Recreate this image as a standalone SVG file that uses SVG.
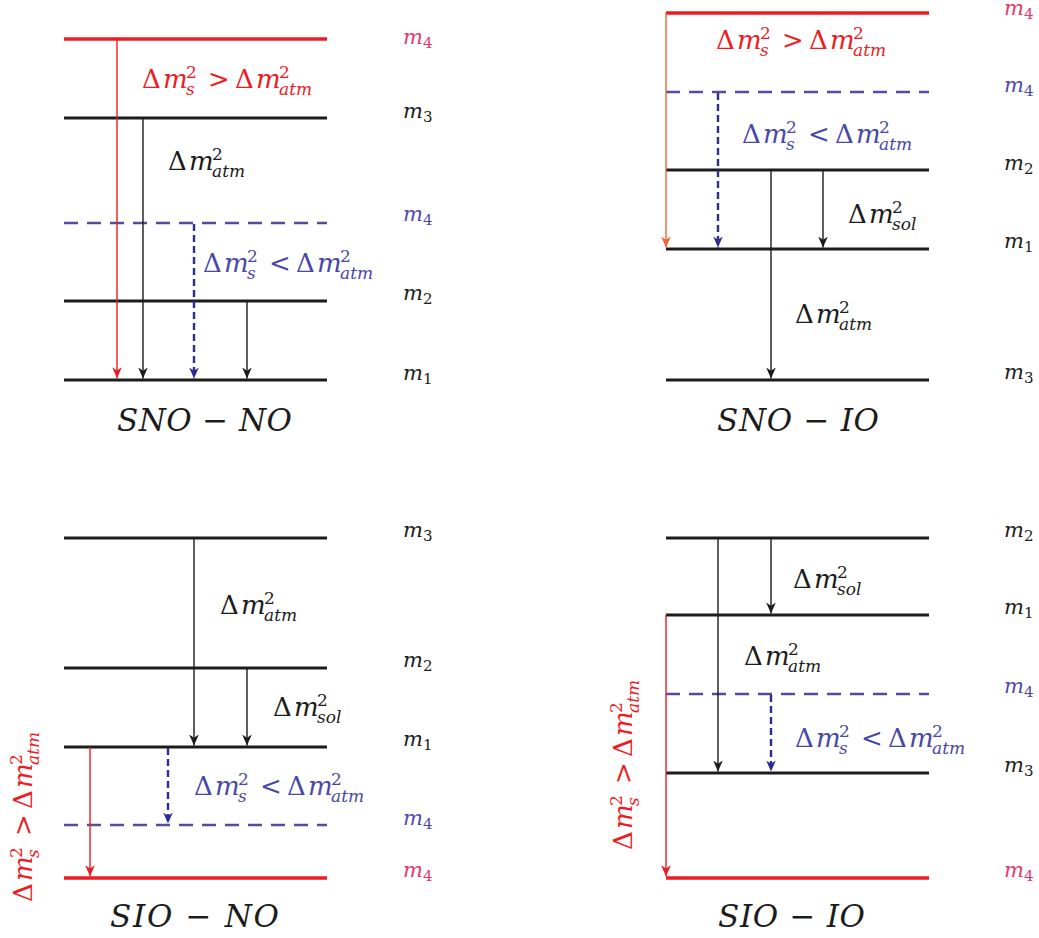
<svg xmlns="http://www.w3.org/2000/svg" width="1039" height="938" viewBox="0 0 1039 938">
<style>
.lv{stroke:#1c1c1c;stroke-width:3;fill:none}
.lvr{stroke:#ed1c24;stroke-width:3.5;fill:none}
.lvd{stroke:#554ca0;stroke-width:2.6;stroke-dasharray:14 9;fill:none}
.ak{stroke:#1c1c1c;stroke-width:1.4;fill:none;marker-end:url(#hk)}
.ar{stroke:#ed1c24;stroke-width:1.4;fill:none;marker-end:url(#hr)}
.ao{stroke:#f26532;stroke-width:1.4;fill:none;marker-end:url(#ho)}
.ab{stroke:#2e2d8f;stroke-width:2.4;stroke-dasharray:7 4;fill:none;marker-end:url(#hb)}
text{font-family:"DejaVu Serif","Liberation Serif",serif}
.mt{font-size:26px}
.it{font-style:italic}
.sc{font-size:17px}
.lb{font-size:21px;font-style:italic}
.lbs{font-size:15px;font-style:normal}
.ttl{font-size:31px;font-style:italic;fill:#1c1c1c}
.ck{fill:#1c1c1c}
.cr{fill:#ed1c24}
.cb{fill:#4a48a6}
.cp{fill:#e5386e}
.cbl{fill:#4f4aa8}
</style>
<defs>
<marker id="hk" markerUnits="userSpaceOnUse" markerWidth="11" markerHeight="11" viewBox="0 0 10 10" refX="10" refY="5" orient="auto"><path d="M0,0.6 L10,5 L0,9.4 L3,5 Z" fill="#1c1c1c"/></marker>
<marker id="hr" markerUnits="userSpaceOnUse" markerWidth="11" markerHeight="11" viewBox="0 0 10 10" refX="10" refY="5" orient="auto"><path d="M0,0.6 L10,5 L0,9.4 L3,5 Z" fill="#ed1c24"/></marker>
<marker id="ho" markerUnits="userSpaceOnUse" markerWidth="11" markerHeight="11" viewBox="0 0 10 10" refX="10" refY="5" orient="auto"><path d="M0,0.6 L10,5 L0,9.4 L3,5 Z" fill="#f26532"/></marker>
<marker id="hb" markerUnits="userSpaceOnUse" markerWidth="11" markerHeight="11" viewBox="0 0 10 10" refX="10" refY="5" orient="auto"><path d="M0,0.6 L10,5 L0,9.4 L3,5 Z" fill="#2e2d8f"/></marker>
</defs>

<!-- SNO-NO levels -->
<g id="snono-m4s"><line class="lvr" x1="64" y1="39" x2="327" y2="39"/><text class="lb cp" x="403" y="44">m<tspan class="lbs" x="423" y="48">4</tspan></text></g>
<g id="snono-m3"><line class="lv" x1="64" y1="118" x2="327" y2="118"/><text class="lb ck" x="403" y="118">m<tspan class="lbs" x="423" y="122">3</tspan></text></g>
<g id="snono-m4"><line class="lvd" x1="64" y1="223" x2="327" y2="223"/><text class="lb cbl" x="403" y="221">m<tspan class="lbs" x="423" y="225">4</tspan></text></g>
<g id="snono-m2"><line class="lv" x1="64" y1="301" x2="327" y2="301"/><text class="lb ck" x="403" y="300">m<tspan class="lbs" x="423" y="304">2</tspan></text></g>
<g id="snono-m1"><line class="lv" x1="64" y1="380" x2="327" y2="380"/><text class="lb ck" x="403" y="380">m<tspan class="lbs" x="423" y="384">1</tspan></text></g>
<g id="title-snono"><text class="ttl" x="117" y="431" textLength="175" lengthAdjust="spacing">SNO <tspan font-style="normal">−</tspan> NO</text></g>

<!-- SNO-IO levels -->
<g id="snoio-m4s"><line class="lvr" x1="666" y1="13" x2="929" y2="13"/><text class="lb cp" x="1004" y="15">m<tspan class="lbs" x="1024" y="19">4</tspan></text></g>
<g id="snoio-m4"><line class="lvd" x1="666" y1="92" x2="929" y2="92"/><text class="lb cbl" x="1004" y="92">m<tspan class="lbs" x="1024" y="96">4</tspan></text></g>
<g id="snoio-m2"><line class="lv" x1="666" y1="170" x2="929" y2="170"/><text class="lb ck" x="1004" y="170">m<tspan class="lbs" x="1024" y="174">2</tspan></text></g>
<g id="snoio-m1"><line class="lv" x1="666" y1="249" x2="929" y2="249"/><text class="lb ck" x="1004" y="248">m<tspan class="lbs" x="1024" y="252">1</tspan></text></g>
<g id="snoio-m3"><line class="lv" x1="666" y1="380" x2="929" y2="380"/><text class="lb ck" x="1004" y="379">m<tspan class="lbs" x="1024" y="383">3</tspan></text></g>
<g id="title-snoio"><text class="ttl" x="717" y="431" textLength="162" lengthAdjust="spacing">SNO <tspan font-style="normal">−</tspan> IO</text></g>

<!-- SIO-NO levels -->
<g id="siono-m3"><line class="lv" x1="64" y1="538" x2="327" y2="538"/><text class="lb ck" x="403" y="537">m<tspan class="lbs" x="423" y="541">3</tspan></text></g>
<g id="siono-m2"><line class="lv" x1="64" y1="668" x2="327" y2="668"/><text class="lb ck" x="403" y="667">m<tspan class="lbs" x="423" y="671">2</tspan></text></g>
<g id="siono-m1"><line class="lv" x1="64" y1="747" x2="327" y2="747"/><text class="lb ck" x="403" y="746">m<tspan class="lbs" x="423" y="750">1</tspan></text></g>
<g id="siono-m4"><line class="lvd" x1="64" y1="825" x2="327" y2="825"/><text class="lb cbl" x="403" y="825">m<tspan class="lbs" x="423" y="829">4</tspan></text></g>
<g id="siono-m4s"><line class="lvr" x1="64" y1="878" x2="327" y2="878"/><text class="lb cp" x="403" y="877">m<tspan class="lbs" x="423" y="881">4</tspan></text></g>
<g id="title-siono"><text class="ttl" x="110" y="927" textLength="169" lengthAdjust="spacing">SIO <tspan font-style="normal">−</tspan> NO</text></g>

<!-- SIO-IO levels -->
<g id="sioio-m2"><line class="lv" x1="666" y1="538" x2="929" y2="538"/><text class="lb ck" x="1004" y="537">m<tspan class="lbs" x="1024" y="541">2</tspan></text></g>
<g id="sioio-m1"><line class="lv" x1="666" y1="615" x2="929" y2="615"/><text class="lb ck" x="1004" y="614">m<tspan class="lbs" x="1024" y="618">1</tspan></text></g>
<g id="sioio-m4"><line class="lvd" x1="666" y1="694" x2="929" y2="694"/><text class="lb cbl" x="1004" y="693">m<tspan class="lbs" x="1024" y="697">4</tspan></text></g>
<g id="sioio-m3"><line class="lv" x1="666" y1="773" x2="929" y2="773"/><text class="lb ck" x="1004" y="772">m<tspan class="lbs" x="1024" y="776">3</tspan></text></g>
<g id="sioio-m4s"><line class="lvr" x1="666" y1="878" x2="929" y2="878"/><text class="lb cp" x="1004" y="877">m<tspan class="lbs" x="1024" y="881">4</tspan></text></g>
<g id="title-sioio"><text class="ttl" x="718" y="927" textLength="147" lengthAdjust="spacing">SIO <tspan font-style="normal">−</tspan> IO</text></g>

<!-- connectors -->
<g id="connectors">
<line class="ar" x1="117" y1="39" x2="117" y2="378.3"/>
<line class="ak" x1="143" y1="118" x2="143" y2="378.5"/>
<line class="ab" x1="194" y1="224" x2="194" y2="378.5"/>
<line class="ak" x1="247" y1="301" x2="247" y2="378.5"/>

<line class="ao" x1="666" y1="13" x2="666" y2="247.5"/>
<line class="ab" x1="718" y1="93" x2="718" y2="247.5"/>
<line class="ak" x1="771" y1="170" x2="771" y2="378.5"/>
<line class="ak" x1="823" y1="170" x2="823" y2="247.5"/>

<line class="ak" x1="194" y1="538" x2="194" y2="745.5"/>
<line class="ak" x1="247" y1="668" x2="247" y2="745.5"/>
<line class="ab" x1="168" y1="748" x2="168" y2="823.5"/>
<line class="ar" x1="90" y1="747" x2="90" y2="876.3"/>

<line class="ak" x1="718" y1="538" x2="718" y2="771.5"/>
<line class="ak" x1="771" y1="538" x2="771" y2="613.5"/>
<line class="ab" x1="771" y1="695" x2="771" y2="771.5"/>
<line class="ar" x1="666" y1="615" x2="666" y2="876.3"/>
</g>

<!-- connector labels -->
<g id="labels">
<!-- SNO-NO -->
<text class="mt cr"><tspan x="142" y="88">Δ</tspan><tspan class="it" x="163" y="88">m</tspan><tspan class="sc" x="186" y="78">2</tspan><tspan class="sc it" x="186" y="95">s</tspan><tspan x="208" y="88">&gt;</tspan><tspan x="235" y="88">Δ</tspan><tspan class="it" x="256" y="88">m</tspan><tspan class="sc" x="279" y="78">2</tspan><tspan class="sc it" x="279" y="95">atm</tspan></text>
<text class="mt ck"><tspan x="168" y="170">Δ</tspan><tspan class="it" x="189" y="170">m</tspan><tspan class="sc" x="212" y="160">2</tspan><tspan class="sc it" x="212" y="177">atm</tspan></text>
<text class="mt cb"><tspan x="203" y="272">Δ</tspan><tspan class="it" x="224" y="272">m</tspan><tspan class="sc" x="247" y="262">2</tspan><tspan class="sc it" x="247" y="279">s</tspan><tspan x="269" y="272">&lt;</tspan><tspan x="296" y="272">Δ</tspan><tspan class="it" x="317" y="272">m</tspan><tspan class="sc" x="340" y="262">2</tspan><tspan class="sc it" x="340" y="279">atm</tspan></text>
<!-- SNO-IO -->
<text class="mt cr"><tspan x="716" y="49">Δ</tspan><tspan class="it" x="737" y="49">m</tspan><tspan class="sc" x="760" y="39">2</tspan><tspan class="sc it" x="760" y="56">s</tspan><tspan x="782" y="49">&gt;</tspan><tspan x="809" y="49">Δ</tspan><tspan class="it" x="830" y="49">m</tspan><tspan class="sc" x="853" y="39">2</tspan><tspan class="sc it" x="853" y="56">atm</tspan></text>
<text class="mt cb"><tspan x="742" y="143">Δ</tspan><tspan class="it" x="763" y="143">m</tspan><tspan class="sc" x="786" y="133">2</tspan><tspan class="sc it" x="786" y="150">s</tspan><tspan x="808" y="143">&lt;</tspan><tspan x="835" y="143">Δ</tspan><tspan class="it" x="856" y="143">m</tspan><tspan class="sc" x="879" y="133">2</tspan><tspan class="sc it" x="879" y="150">atm</tspan></text>
<text class="mt ck"><tspan x="848" y="223">Δ</tspan><tspan class="it" x="869" y="223">m</tspan><tspan class="sc" x="892" y="213">2</tspan><tspan class="sc it" x="892" y="230">sol</tspan></text>
<text class="mt ck"><tspan x="795" y="323">Δ</tspan><tspan class="it" x="816" y="323">m</tspan><tspan class="sc" x="839" y="313">2</tspan><tspan class="sc it" x="839" y="330">atm</tspan></text>
<!-- SIO-NO -->
<text class="mt ck"><tspan x="220" y="614">Δ</tspan><tspan class="it" x="241" y="614">m</tspan><tspan class="sc" x="264" y="604">2</tspan><tspan class="sc it" x="264" y="621">atm</tspan></text>
<text class="mt ck"><tspan x="273" y="716">Δ</tspan><tspan class="it" x="294" y="716">m</tspan><tspan class="sc" x="317" y="706">2</tspan><tspan class="sc it" x="317" y="723">sol</tspan></text>
<text class="mt cb"><tspan x="194" y="795">Δ</tspan><tspan class="it" x="215" y="795">m</tspan><tspan class="sc" x="238" y="785">2</tspan><tspan class="sc it" x="238" y="802">s</tspan><tspan x="260" y="795">&lt;</tspan><tspan x="287" y="795">Δ</tspan><tspan class="it" x="308" y="795">m</tspan><tspan class="sc" x="331" y="785">2</tspan><tspan class="sc it" x="331" y="802">atm</tspan></text>
<g transform="translate(32,902) rotate(-90)"><text class="mt cr"><tspan x="0" y="0">Δ</tspan><tspan class="it" x="21" y="0">m</tspan><tspan class="sc" x="44" y="-10">2</tspan><tspan class="sc it" x="44" y="7">s</tspan><tspan x="66" y="0">&gt;</tspan><tspan x="93" y="0">Δ</tspan><tspan class="it" x="114" y="0">m</tspan><tspan class="sc" x="137" y="-10">2</tspan><tspan class="sc it" x="137" y="7">atm</tspan></text></g>
<!-- SIO-IO -->
<text class="mt ck"><tspan x="793" y="588">Δ</tspan><tspan class="it" x="814" y="588">m</tspan><tspan class="sc" x="837" y="578">2</tspan><tspan class="sc it" x="837" y="595">sol</tspan></text>
<text class="mt ck"><tspan x="744" y="665">Δ</tspan><tspan class="it" x="765" y="665">m</tspan><tspan class="sc" x="788" y="655">2</tspan><tspan class="sc it" x="788" y="672">atm</tspan></text>
<text class="mt cb"><tspan x="795" y="747">Δ</tspan><tspan class="it" x="816" y="747">m</tspan><tspan class="sc" x="839" y="737">2</tspan><tspan class="sc it" x="839" y="754">s</tspan><tspan x="861" y="747">&lt;</tspan><tspan x="888" y="747">Δ</tspan><tspan class="it" x="909" y="747">m</tspan><tspan class="sc" x="932" y="737">2</tspan><tspan class="sc it" x="932" y="754">atm</tspan></text>
<g transform="translate(632,850) rotate(-90)"><text class="mt cr"><tspan x="0" y="0">Δ</tspan><tspan class="it" x="21" y="0">m</tspan><tspan class="sc" x="44" y="-10">2</tspan><tspan class="sc it" x="44" y="7">s</tspan><tspan x="66" y="0">&gt;</tspan><tspan x="93" y="0">Δ</tspan><tspan class="it" x="114" y="0">m</tspan><tspan class="sc" x="137" y="-10">2</tspan><tspan class="sc it" x="137" y="7">atm</tspan></text></g>
</g>
</svg>
